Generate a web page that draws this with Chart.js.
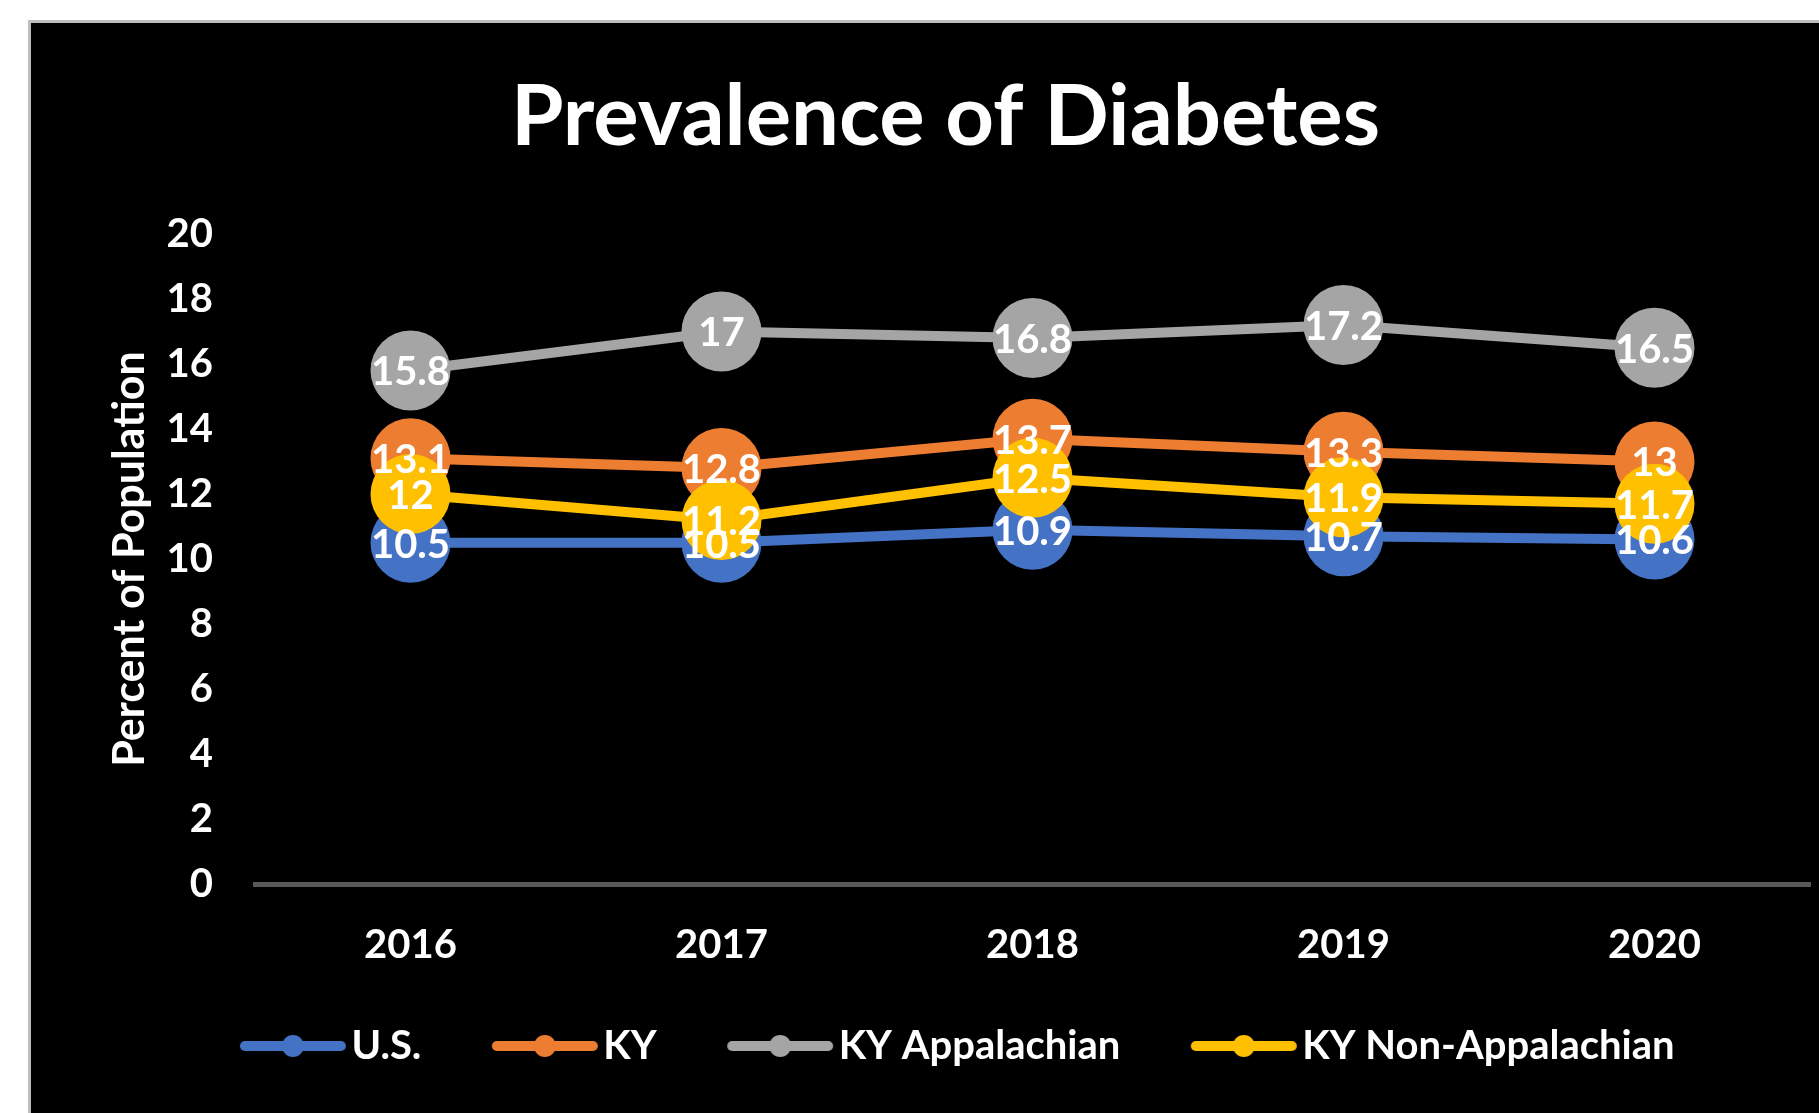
<!DOCTYPE html>
<html>
<head>
<meta charset="utf-8">
<script src="https://cdn.jsdelivr.net/npm/chart.js@4.4.1/dist/chart.umd.min.js"></script>
<style>
  html, body { margin: 0; padding: 0; background: #fff; overflow: hidden; }
  #frame {
    position: absolute; left: 28px; top: 20px;
    width: 1791px; height: 1093px;
    box-sizing: border-box;
    border-top: 3px solid #bdbdbd; border-left: 3px solid #bdbdbd;
    background: #000;
  }
  #chart { display: block; }
</style>
</head>
<body>
<div id="frame"><canvas id="chart" width="1788" height="1090"></canvas></div>
<script>
// ---------------- data ----------------
const years = ['2016', '2017', '2018', '2019', '2020'];
const usRate = [10.5, 10.5, 10.9, 10.7, 10.6];
const kyRate = [13.1, 12.8, 13.7, 13.3, 13];
const kyAppRate = [15.8, 17, 16.8, 17.2, 16.5];
const kyNonAppRate = [12, 11.2, 12.5, 11.9, 11.7];
const seriesNames = ['U.S.', 'KY', 'KY Appalachian', 'KY Non-Appalachian'];
const seriesColors = ['#4472C4', '#ED7D31', '#A5A5A5', '#FFC000'];
const yMin = 0, yMax = 20, yStep = 2;

const FONT = 'Lato, "Open Sans", sans-serif';

// legend swatch: thick line with a dot (left part of the image left empty)
function swatch(color) {
  const c = document.createElement('canvas');
  c.width = 146; c.height = 26;
  const g = c.getContext('2d');
  g.strokeStyle = color;
  g.lineWidth = 10;
  g.lineCap = 'round';
  g.beginPath(); g.moveTo(44, 13); g.lineTo(140, 13); g.stroke();
  g.fillStyle = color;
  g.beginPath(); g.arc(92, 13, 11, 0, Math.PI * 2); g.fill();
  return c;
}

// white value labels centred on every point
const valueLabels = {
  id: 'valueLabels',
  afterDatasetsDraw(chart) {
    const ctx = chart.ctx;
    ctx.save();
    ctx.font = 'bold 40px ' + FONT;
    ctx.fillStyle = '#fff';
    ctx.textAlign = 'center';
    ctx.textBaseline = 'middle';
    chart.data.datasets.forEach((ds, i) => {
      chart.getDatasetMeta(i).data.forEach((pt, j) => {
        ctx.fillText(String(ds.data[j]), pt.x, pt.y + 2);
      });
    });
    ctx.restore();
  }
};

const allSeries = [usRate, kyRate, kyAppRate, kyNonAppRate];
const datasets = allSeries.map((vals, i) => ({
  label: seriesNames[i],
  data: vals,
  borderColor: seriesColors[i],
  backgroundColor: seriesColors[i],
  borderWidth: 10,
  pointRadius: 40,
  pointHoverRadius: 40,
  pointBorderWidth: 0,
  pointStyle: 'circle',
  tension: 0,
  order: allSeries.length - i
}));

new Chart(document.getElementById('chart'), {
  type: 'line',
  data: { labels: years, datasets: datasets },
  plugins: [valueLabels],
  options: {
    responsive: false,
    animation: false,
    events: [],
    layout: { autoPadding: false, padding: { left: 50, right: 9, top: 0, bottom: 37 } },
    plugins: {
      title: {
        display: true,
        text: 'Prevalence of Diabetes',
        color: '#fff',
        font: { family: FONT, size: 85, weight: 'bold' },
        padding: { top: 44, bottom: 65 }
      },
      legend: {
        position: 'bottom',
        labels: {
          color: '#fff',
          font: { family: FONT, size: 40, weight: 'bold' },
          usePointStyle: true,
          pointStyleWidth: 115,
          padding: 47,
          sort: (a, b) => a.datasetIndex - b.datasetIndex,
          generateLabels(chart) {
            const items = Chart.defaults.plugins.legend.labels.generateLabels(chart);
            items.forEach(it => { it.pointStyle = swatch(seriesColors[it.datasetIndex]); });
            return items;
          }
        }
      },
      tooltip: { enabled: false }
    },
    scales: {
      x: {
        offset: true,
        grid: { display: false, drawTicks: false },
        border: { display: true, color: '#595959', width: 5 },
        ticks: { color: '#fff', padding: 37, font: { family: FONT, size: 40, weight: 'bold' } },
        afterFit: s => { s.height = 95; }
      },
      y: {
        min: yMin,
        max: yMax,
        grid: { display: false, drawTicks: false },
        border: { display: false },
        ticks: { stepSize: yStep, color: '#fff', padding: 42, font: { family: FONT, size: 40, weight: 'bold' } },
        title: {
          display: true,
          text: 'Percent of Population',
          color: '#fff',
          font: { family: FONT, size: 43, weight: 'bold' },
          padding: { top: 23, bottom: 0 }
        },
        afterFit: s => { s.width = 174; }
      }
    }
  }
});
</script>
</body>
</html>
